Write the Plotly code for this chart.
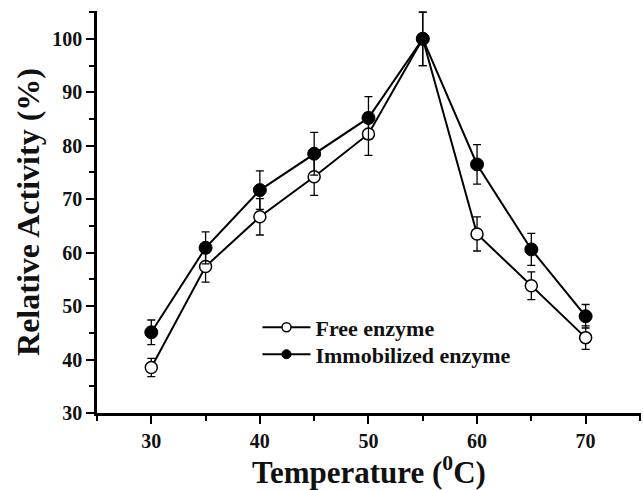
import plotly.graph_objects as go

# Temperature profile of free vs immobilized enzyme
temperature = [30, 35, 40, 45, 50, 55, 60, 65, 70]

free_activity = [38.5, 57.4, 66.7, 74.2, 82.2, 100.0, 63.5, 53.8, 44.1]
free_error = [1.7, 2.9, 3.4, 3.5, 4.0, 5.0, 3.2, 2.6, 2.2]

immob_activity = [45.1, 60.9, 71.7, 78.5, 85.2, 100.0, 76.5, 60.6, 48.1]
immob_error = [2.3, 3.0, 3.6, 4.0, 4.0, 5.0, 3.7, 3.0, 2.2]

x_ticks = [30, 40, 50, 60, 70]
y_ticks = [30, 40, 50, 60, 70, 80, 90, 100]

SERIF = "Liberation Serif"
INK = "#111111"

free_marker = dict(symbol="circle", color="white", line=dict(color="black", width=1.5))
immob_marker = dict(symbol="circle", color="black", line=dict(color="black", width=1))

fig = go.Figure()

fig.add_trace(go.Scatter(
    x=temperature, y=free_activity,
    name="Free enzyme", showlegend=False,
    mode="lines+markers",
    line=dict(color="black", width=2),
    marker=dict(size=12, **free_marker),
    error_y=dict(type="data", array=free_error, visible=True,
                 color="black", thickness=1.3, width=4),
))

fig.add_trace(go.Scatter(
    x=temperature, y=immob_activity,
    name="Immobilized enzyme", showlegend=False,
    mode="lines+markers",
    line=dict(color="black", width=2),
    marker=dict(size=13, **immob_marker),
    error_y=dict(type="data", array=immob_error, visible=True,
                 color="black", thickness=1.3, width=4),
))

# Legend keys use smaller symbols than the plotted points; one legend box per row
for name, mk, lg in (("Free enzyme", free_marker, "legend"),
                     ("Immobilized enzyme", immob_marker, "legend2")):
    fig.add_trace(go.Scatter(
        x=[None], y=[None], name=name, mode="lines+markers",
        line=dict(color="black", width=2),
        marker=dict(size=9, **mk),
        legend=lg,
    ))

axis_common = dict(
    showgrid=False, zeroline=False,
    showline=True, linecolor="black", linewidth=2.5,
    ticks="outside", ticklen=8, tickwidth=2, tickcolor="black",
    tickfont=dict(family=SERIF, size=20, color=INK, weight="bold"),
)

fig.update_xaxes(
    range=[25, 75.1], tickvals=x_ticks,
    minor=dict(dtick=5, tick0=25, ticks="outside", ticklen=5, tickwidth=2, tickcolor="black"),
    title=dict(text="Temperature (<sup>0</sup>C)",
               font=dict(family=SERIF, size=31, color=INK, weight="bold"),
               standoff=12),
    **axis_common,
)

fig.update_yaxes(
    range=[30, 105.2], tickvals=y_ticks,
    minor=dict(dtick=5, tick0=30, ticks="outside", ticklen=5, tickwidth=2, tickcolor="black"),
    title=dict(text="Relative Activity (%)",
               font=dict(family=SERIF, size=32, color=INK, weight="bold"),
               standoff=4),
    **axis_common,
)

legend_style = dict(
    xanchor="left", yanchor="top",
    bgcolor="rgba(0,0,0,0)", borderwidth=0,
    itemwidth=48,
    font=dict(family=SERIF, size=22, color=INK, weight="bold"),
)

fig.update_layout(
    width=643, height=490,
    margin=dict(l=97, r=2, t=11, b=77),
    plot_bgcolor="white", paper_bgcolor="white",
    showlegend=True,
    legend=dict(x=0.295, y=0.265, **legend_style),
    legend2=dict(x=0.295, y=0.198, **legend_style),
)

fig.write_html("out.html")
